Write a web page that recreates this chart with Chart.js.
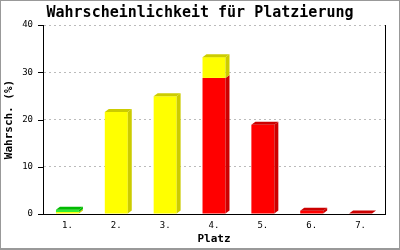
<!DOCTYPE html>
<html lang="de">
<head>
    <meta charset="UTF-8">
    <title>Wahrscheinlichkeit für Platzierung</title>
    <script src="https://cdn.jsdelivr.net/npm/chart.js"></script>
    <style>
        html, body { margin: 0; padding: 0; background: #fff; }
        #chart { display: block; background: #fff; }
    </style>
</head>
<body>
    <canvas id="chart" width="400" height="250"></canvas>

    <script>
        // Daten
        const platz = ['1.', '2.', '3.', '4.', '5.', '6.', '7.'];
        const rot = [0, 0, 0, 28.8, 18.9, 0.7, 0.1];
        const gelb = [0.4, 21.6, 24.9, 4.4, 0, 0, 0];
        const gruen = [0.5, 0, 0, 0, 0, 0, 0];
        const yTicks = [0, 10, 20, 30, 40];

        const mono = "'DejaVu Sans Mono', 'Liberation Mono', monospace";

        // Seiten- und Deckfläche für den 3D-Effekt
        const darker = ['#cc0000', '#cccc00', '#00bb00'];
        const dx = 4, dy = 3;

        const bars3d = {
            id: 'bars3d',
            afterDatasetsDraw(chart) {
                const ctx = chart.ctx;
                const n = chart.data.labels.length;
                for (let j = 0; j < n; j++) {
                    let topIdx = -1;
                    chart.data.datasets.forEach((ds, i) => {
                        if (ds.data[j] > 0) topIdx = i;
                    });
                    chart.data.datasets.forEach((ds, i) => {
                        if (!(ds.data[j] > 0)) return;
                        const el = chart.getDatasetMeta(i).data[j];
                        const l = el.x - el.width / 2, r = el.x + el.width / 2;
                        const top = el.y, bot = el.base;
                        ctx.save();
                        ctx.fillStyle = darker[i];
                        ctx.beginPath();
                        ctx.moveTo(r, top);
                        ctx.lineTo(r + dx, top - dy);
                        ctx.lineTo(r + dx, bot - dy);
                        ctx.lineTo(r, bot);
                        ctx.closePath();
                        ctx.fill();
                        if (i === topIdx) {
                            ctx.beginPath();
                            ctx.moveTo(l, top);
                            ctx.lineTo(l + dx, top - dy);
                            ctx.lineTo(r + dx, top - dy);
                            ctx.lineTo(r, top);
                            ctx.closePath();
                            ctx.fill();
                        }
                        ctx.restore();
                    });
                }
            },
            afterDraw(chart) {
                const ctx = chart.ctx;
                const a = chart.chartArea;
                const y = chart.scales.y;
                ctx.save();
                // Teilstriche links
                ctx.strokeStyle = '#000';
                ctx.lineWidth = 1;
                ctx.beginPath();
                yTicks.forEach(v => {
                    const py = Math.round(y.getPixelForValue(v)) + 0.5;
                    ctx.moveTo(a.left - 5, py);
                    ctx.lineTo(a.left, py);
                });
                ctx.stroke();
                // Rahmen
                ctx.strokeStyle = '#999';
                ctx.strokeRect(0.5, 0.5, 399, 248);
                ctx.fillStyle = '#999';
                ctx.fillRect(0, 248, 400, 2);
                ctx.restore();
            }
        };

        new Chart(document.getElementById('chart'), {
            type: 'bar',
            data: {
                labels: platz,
                datasets: [
                    { label: 'rot', data: rot, backgroundColor: '#ff0000' },
                    { label: 'gelb', data: gelb, backgroundColor: '#ffff00' },
                    { label: 'grün', data: gruen, backgroundColor: '#33ee33' }
                ]
            },
            options: {
                responsive: false,
                animation: false,
                events: [],
                layout: { padding: 0 },
                datasets: { bar: { categoryPercentage: 1, barPercentage: 0.47, borderWidth: 0 } },
                plugins: {
                    legend: { display: false },
                    tooltip: { enabled: false },
                    title: {
                        display: true,
                        text: 'Wahrscheinlichkeit für Platzierung',
                        color: '#000',
                        font: { family: mono, size: 15, weight: 'bold' },
                        padding: { top: 4, bottom: 3 }
                    }
                },
                scales: {
                    x: {
                        stacked: true,
                        grid: { display: false, drawTicks: false },
                        border: { display: true, color: '#000', width: 1 },
                        ticks: { color: '#000', font: { family: mono, size: 9 }, padding: 6 },
                        title: {
                            display: true, text: 'Platz', color: '#000',
                            font: { family: mono, size: 11, weight: 'bold' },
                            padding: { top: 2, bottom: 4 }
                        },
                        afterFit: s => { s.height = 36; }
                    },
                    y: {
                        stacked: true,
                        min: 0,
                        max: 40,
                        afterBuildTicks: s => { s.ticks = yTicks.map(v => ({ value: v })); },
                        grid: { color: '#bbbbbb', drawTicks: false },
                        border: { display: true, color: '#000', width: 1, dash: [2, 3] },
                        ticks: { color: '#000', font: { family: mono, size: 9 }, padding: 10 },
                        title: {
                            display: true, text: 'Wahrsch. (%)', color: '#000',
                            font: { family: mono, size: 11, weight: 'bold' },
                            padding: { top: 3, bottom: 0 }
                        },
                        afterFit: s => { s.width = 43; }
                    },
                    y2: {
                        position: 'right',
                        min: 0,
                        max: 40,
                        grid: { display: false, drawTicks: false },
                        border: { display: true, color: '#000', width: 1 },
                        ticks: { display: false },
                        afterFit: s => { s.width = 15; }
                    }
                }
            },
            plugins: [bars3d]
        });
    </script>
</body>
</html>
